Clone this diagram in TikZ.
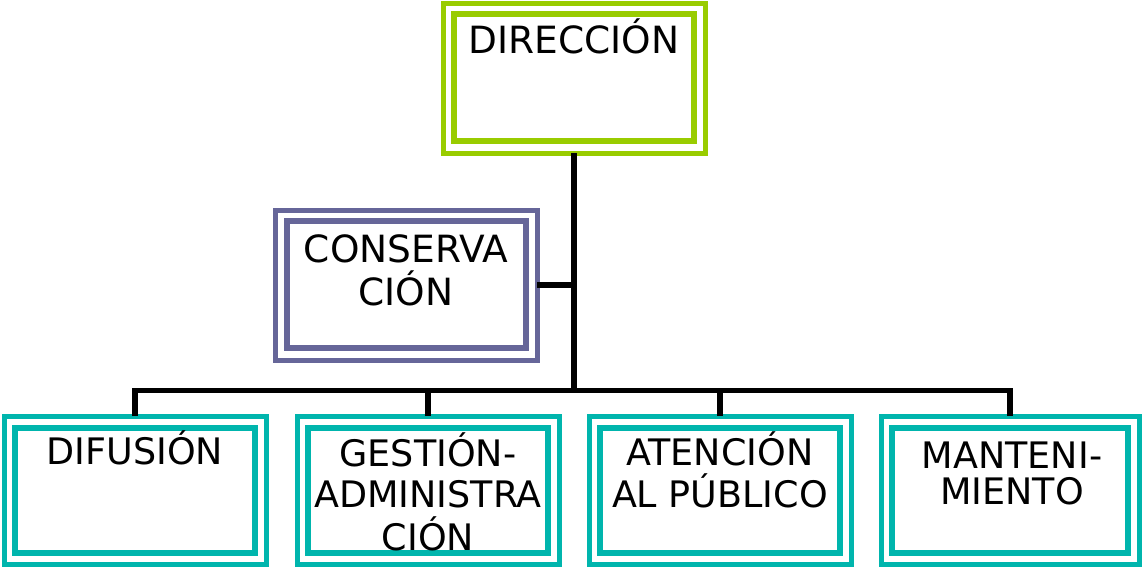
\documentclass[tikz,border=0pt]{standalone}
\usepackage{fontspec}
\setmainfont{DejaVu Sans}
\usetikzlibrary{calc}
\definecolor{limeC}{RGB}{153,204,0}
\definecolor{slateC}{RGB}{102,102,153}
\definecolor{tealC}{RGB}{0,181,173}
\begin{document}
\begin{tikzpicture}[x=1pt,y=-1pt,
  outerbox/.style={draw=#1, line width=5pt, outer sep=0pt, inner sep=0pt,
    minimum width=262pt, minimum height=150pt},
  innerline/.style={draw=#1, line width=6.5pt},
  conn/.style={line width=5.5pt, draw=black, line join=miter},
  lbl/.style={anchor=base, inner sep=0pt, font=\fontsize{36.5}{36}\selectfont},
  lblbig/.style={anchor=base, inner sep=0pt, font=\fontsize{37.5}{37}\selectfont}]
\useasboundingbox (0,0) rectangle (1142,568);

% boxes
\node[outerbox=limeC] (dir) at (574,78) {};
\draw[innerline=limeC] ($(dir.north west)+(11,11)$) rectangle ($(dir.south east)+(-11,-12)$);

\node[outerbox=slateC] (cons) at (406,285) {};
\draw[innerline=slateC] ($(cons.north west)+(12,11)$) rectangle ($(cons.south east)+(-11,-12)$);

\node[outerbox=tealC, minimum height=148pt] (dif) at (135,490) {};
\draw[innerline=tealC] ($(dif.north west)+(11,12)$) rectangle ($(dif.south east)+(-11,-11)$);

\node[outerbox=tealC, minimum height=148pt] (gest) at (428,490) {};
\draw[innerline=tealC] ($(gest.north west)+(11,12)$) rectangle ($(gest.south east)+(-11,-11)$);

\node[outerbox=tealC, minimum height=148pt] (aten) at (720,490) {};
\draw[innerline=tealC] ($(aten.north west)+(11,12)$) rectangle ($(aten.south east)+(-11,-11)$);

\node[outerbox=tealC, minimum height=148pt, minimum width=258pt] (mant) at (1010,490) {};
\draw[innerline=tealC] ($(mant.north west)+(11,12)$) rectangle ($(mant.south east)+(-11,-11)$);

% connectors
\coordinate (hub) at (574,390.5);
\draw[conn] (dir.south) -- (hub);
\draw[conn] (cons.east) -- (cons.east -| hub);
\draw[conn] (dif.north) -- (dif.north |- hub) -- (mant.north |- hub) -- (mant.north);
\draw[conn] (gest.north |- hub) -- (gest.north);
\draw[conn] (aten.north |- hub) -- (aten.north);

% labels
\node[lblbig] (tdir) at (574,53) {DIRECCIÓN};
\node[lblbig] (tcons1) at (406,262) {CONSERVA};
\node[lblbig] (tcons2) at (406,305) {CIÓN};
\node[lbl] (tdif) at (135,464) {DIFUSIÓN};
\node[lbl] (tgest1) at (428,466) {GESTIÓN-};
\node[lbl] (tgest2) at (428,507) {ADMINISTRA};
\node[lbl] (tgest3) at (428,550) {CIÓN};
\node[lbl] (taten1) at (720,465) {ATENCIÓN};
\node[lbl] (taten2) at (720,507) {AL PÚBLICO};
\node[lbl] (tmant1) at (1012,468) {MANTENI-};
\node[lbl] (tmant2) at (1012,504) {MIENTO};
\end{tikzpicture}
\end{document}
